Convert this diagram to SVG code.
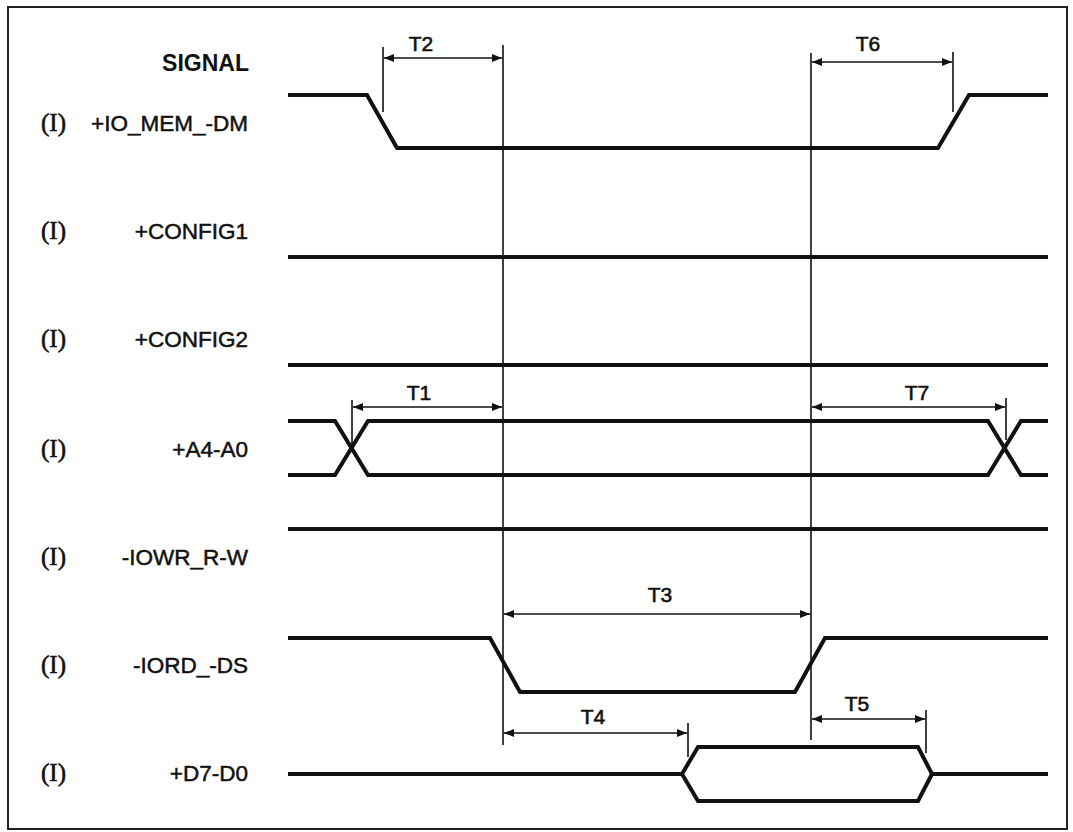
<svg xmlns="http://www.w3.org/2000/svg" width="1073" height="832" viewBox="0 0 1073 832">
<style>
.lbl{font-family:"Liberation Sans",Arial,sans-serif;font-size:22.5px;fill:#111;stroke:#111;stroke-width:0.5;text-anchor:end}
.io{font-family:"Liberation Serif","Times New Roman",serif;font-size:25px;fill:#111;stroke:#111;stroke-width:0.6}
.hdr{font-family:"Liberation Sans",Arial,sans-serif;font-size:23px;font-weight:bold;fill:#111;text-anchor:end}
.tl{font-family:"Liberation Sans",Arial,sans-serif;font-size:21px;fill:#111;stroke:#111;stroke-width:0.6;text-anchor:middle}
.sig{fill:none;stroke:#111;stroke-width:4;stroke-linejoin:miter;stroke-linecap:butt}
.ref{fill:none;stroke:#111;stroke-width:1.6}
.dim{fill:none;stroke:#111;stroke-width:1.6;marker-start:url(#ah);marker-end:url(#ah)}
</style>
<defs>
<marker id="ah" viewBox="0 0 10 8" refX="10" refY="4" markerWidth="12" markerHeight="8" markerUnits="userSpaceOnUse" orient="auto-start-reverse">
<path d="M0,0 L10,4 L0,8 Z" fill="#111"/>
</marker>
</defs>
<rect x="8" y="7" width="1059" height="822" fill="#fff" stroke="#222" stroke-width="2"/>
<g id="labels">
<text class="hdr" x="249" y="71">SIGNAL</text>
<text class="io" x="41" y="131">(I)</text><text class="lbl" x="248" y="131">+IO_MEM_-DM</text>
<text class="io" x="41" y="239">(I)</text><text class="lbl" x="248" y="239">+CONFIG1</text>
<text class="io" x="41" y="347">(I)</text><text class="lbl" x="248" y="347">+CONFIG2</text>
<text class="io" x="41" y="457">(I)</text><text class="lbl" x="248" y="457">+A4-A0</text>
<text class="io" x="41" y="565">(I)</text><text class="lbl" x="248" y="565">-IOWR_R-W</text>
<text class="io" x="41" y="673">(I)</text><text class="lbl" x="248" y="673">-IORD_-DS</text>
<text class="io" x="41" y="781">(I)</text><text class="lbl" x="248" y="781">+D7-D0</text>
</g>
<g id="sig-io_mem"><path class="sig" d="M288,95 H367 L397,148 H938 L969,95 H1048"/></g>
<g id="sig-config1"><path class="sig" d="M288,257 H1048"/></g>
<g id="sig-config2"><path class="sig" d="M288,365 H1048"/></g>
<g id="sig-a4a0"><path class="sig" d="M288,421 H335 L368,475 H988 L1021,421 H1048 M288,475 H335 L368,421 H988 L1021,475 H1048"/></g>
<g id="sig-iowr"><path class="sig" d="M288,529 H1048"/></g>
<g id="sig-iord"><path class="sig" d="M288,638 H490 L520,692 H795 L825,638 H1048"/></g>
<g id="sig-d7d0"><path class="sig" d="M288,774 H682 L698,747 H918 L932,774 H1048 M682,774 L698,801 H918 L932,774"/></g>
<g id="connectors">
<path class="ref" d="M503,45 V745 M811,53 V740"/>
<path class="ref" d="M383,47 V112 M953,52 V112 M352,400 V449 M1006,398 V440 M688,723 V757 M926,710 V753"/>
<path class="dim" d="M384,58 H502"/>
<path class="dim" d="M812,62 H952"/>
<path class="dim" d="M353,407 H502"/>
<path class="dim" d="M812,407 H1005"/>
<path class="dim" d="M504,614 H810"/>
<path class="dim" d="M504,733 H687"/>
<path class="dim" d="M812,719 H925"/>
</g>
<g id="timing-labels">
<text class="tl" x="421" y="51">T2</text>
<text class="tl" x="868" y="51">T6</text>
<text class="tl" x="419" y="400">T1</text>
<text class="tl" x="917" y="400">T7</text>
<text class="tl" x="660" y="602">T3</text>
<text class="tl" x="593" y="724">T4</text>
<text class="tl" x="857" y="711">T5</text>
</g>
</svg>
